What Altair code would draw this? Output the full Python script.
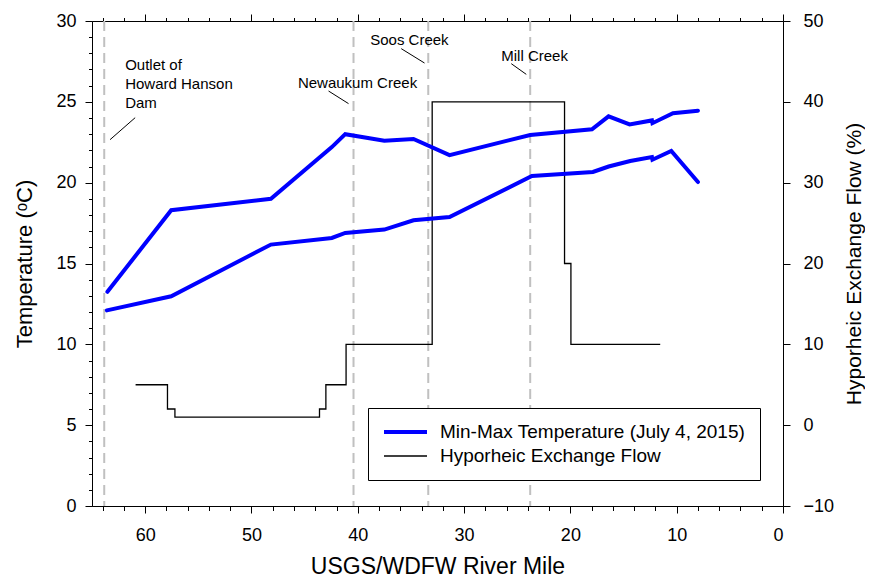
import altair as alt
import pandas as pd

# ---------------- data ----------------
TEMP_LABEL = "Min-Max Temperature (July 4, 2015)"
FLOW_LABEL = "Hyporheic Exchange Flow"

max_miles = [63.55, 57.55, 48.17, 42.44, 41.18, 37.5, 34.76, 31.37, 23.78, 17.97, 16.41, 14.43, 12.33, 12.28, 10.35, 8.0]
max_temps = [13.25, 18.3, 19.0, 22.2, 23.0, 22.6, 22.7, 21.7, 22.95, 23.3, 24.1, 23.6, 23.85, 23.68, 24.3, 24.45]

min_miles = [63.6, 57.55, 48.17, 42.44, 41.18, 37.5, 34.76, 31.37, 23.62, 17.88, 16.4, 14.37, 12.33, 12.28, 10.51, 8.0]
min_temps = [12.1, 12.97, 16.17, 16.58, 16.89, 17.1, 17.67, 17.88, 20.41, 20.66, 21.0, 21.34, 21.59, 21.42, 21.96, 20.04]

flow_edges = [60.9, 57.9, 57.2, 43.6, 43.0, 41.1, 33.0, 20.55, 19.95, 11.55]
flow_values = [5, 2, 1, 2, 5, 10, 40, 20, 10]

trib_miles = [63.85, 40.4, 33.37, 23.78]

note_labels = ["Outlet of", "Howard Hanson", "Dam", "Newaukum Creek", "Soos Creek", "Mill Creek"]
note_miles = [61.88, 61.88, 61.88, 45.63, 38.83, 26.5]
note_temps = [27.26, 26.08, 24.91, 26.15, 28.8, 27.82]

lead_x1 = [60.94, 42.75, 35.91, 25.56]
lead_y1 = [24.02, 25.67, 28.29, 27.36]
lead_x2 = [63.3, 40.87, 33.72, 24.15]
lead_y2 = [22.66, 24.89, 27.4, 26.7]

x_major = [0, 10, 20, 30, 40, 50, 60]
x_minor = list(range(0, 65, 2))
t_major = [0, 5, 10, 15, 20, 25, 30]
t_minor = list(range(0, 31))
f_major = [-10, 0, 10, 20, 30, 40, 50]

# ---------------- tables ----------------
temp_df = pd.DataFrame({
    "mile": max_miles + min_miles,
    "temp": max_temps + min_temps,
    "kind": ["max"] * len(max_miles) + ["min"] * len(min_miles),
    "series": TEMP_LABEL,
})

fm, fv = [], []
for i, v in enumerate(flow_values):
    fm += [flow_edges[i], flow_edges[i + 1]]
    fv += [v, v]
flow_df = pd.DataFrame({"mile": fm, "flow": fv, "idx": list(range(len(fm))), "series": FLOW_LABEL})

trib_df = pd.DataFrame({"mile": trib_miles})
note_df = pd.DataFrame({"label": note_labels, "mile": note_miles, "temp": note_temps})
lead_df = pd.DataFrame({"x1": lead_x1, "y1": lead_y1, "x2": lead_x2, "y2": lead_y2})

FONT = "Liberation Sans, Arial, sans-serif"

x_scale = alt.Scale(domain=[0, 65], reverse=True, nice=False, zero=False)
t_scale = alt.Scale(domain=[0, 30], nice=False, zero=False)
f_scale = alt.Scale(domain=[-10, 50], nice=False, zero=False)

legend = alt.Legend(
    orient="none", legendX=276, legendY=387, title=None,
    strokeColor="black", fillColor="white", padding=14,
    symbolType="stroke", symbolSize=1849, labelFontSize=19, labelFont=FONT,
    labelOffset=11, rowPadding=4, clipHeight=20, labelLimit=500, labelColor="black",
)
color_enc = alt.Color("series:N", scale=alt.Scale(domain=[TEMP_LABEL, FLOW_LABEL], range=["#0000ff", "#000000"]), legend=legend)
width_enc = alt.StrokeWidth("series:N", scale=alt.Scale(type="point", domain=[TEMP_LABEL, FLOW_LABEL], range=[4, 1.3]), legend=legend)

# ---------------- layers ----------------
rules = alt.Chart(trib_df).mark_rule(color="#c0c0c0", strokeWidth=2, strokeDash=[10, 6]).encode(
    x=alt.X("mile:Q", scale=x_scale, axis=alt.Axis(
        orient="bottom", values=x_major, tickSize=7, labelPadding=13, labelFontSize=18,
        title="USGS/WDFW River Mile", titleFontSize=23, titlePadding=11, domain=True, format="d")),
)

temps = alt.Chart(temp_df).mark_line(strokeCap="round").encode(
    x=alt.X("mile:Q", scale=x_scale, axis=alt.Axis(
        orient="bottom", values=x_minor, tickSize=4.5, labels=False, domain=False, title=None)),
    y=alt.Y("temp:Q", scale=t_scale, axis=alt.Axis(
        orient="left", values=t_major, tickSize=7, labelPadding=9, labelFontSize=18,
        title="Temperature (ᵒC)", titleFontSize=22, titlePadding=19, domain=True)),
    detail="kind:N",
    color=color_enc,
    strokeWidth=width_enc,
)

flow = alt.Chart(flow_df).mark_line().encode(
    x=alt.X("mile:Q", scale=x_scale, axis=alt.Axis(
        orient="top", values=x_major, tickSize=7, labels=False, domain=True, title=None)),
    y=alt.Y("flow:Q", scale=f_scale, axis=alt.Axis(
        orient="right", values=f_major, tickSize=7, labelPadding=13, labelFontSize=18, labelAlign="left",
        title="Hyporheic Exchange Flow (%)", titleFontSize=21, titleAngle=270, titleBaseline="top",
        titlePadding=10, domain=True)),
    order="idx:Q",
    color=color_enc,
    strokeWidth=width_enc,
)

notes = alt.Chart(note_df).mark_text(align="left", baseline="middle", font=FONT, fontSize=15, color="black").encode(
    x=alt.X("mile:Q", scale=x_scale, axis=alt.Axis(
        orient="top", values=x_minor, tickSize=3.5, labels=False, domain=False, title=None)),
    y=alt.Y("temp:Q", scale=t_scale, axis=alt.Axis(
        orient="left", values=t_minor, tickSize=3.5, labels=False, domain=False, title=None)),
    text="label:N",
)

leads = alt.Chart(lead_df).mark_rule(color="black", strokeWidth=1).encode(
    x=alt.X("x1:Q", scale=x_scale, axis=None),
    x2="x2:Q",
    y=alt.Y("y1:Q", scale=t_scale, axis=None),
    y2="y2:Q",
)

chart = alt.layer(rules, flow, temps, notes, leads).resolve_scale(
    y="independent"
).resolve_axis(
    x="independent", y="independent"
).properties(
    width=691, height=485,
    autosize=alt.AutoSizeParams(type="none"),
    padding={"left": 84, "top": 13, "right": 82, "bottom": 71},
).configure_axis(
    grid=False, domainColor="black", tickColor="black", labelColor="black", titleColor="black",
    labelFont=FONT, titleFont=FONT, titleFontWeight="normal", tickWidth=1, domainWidth=1,
).configure_view(strokeWidth=0)

chart.save("out.html", embed_options={"renderer": "svg", "actions": False})
